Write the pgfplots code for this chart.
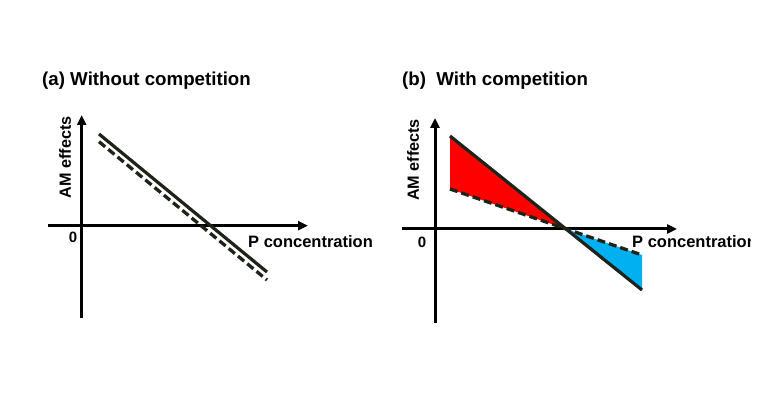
\documentclass[border=0pt]{standalone}
\usepackage{pgfplots}
\pgfplotsset{compat=1.18}
\usepackage{fontspec}
\setmainfont{Liberation Sans}
\usetikzlibrary{arrows.meta}
\definecolor{linecol}{RGB}{30,35,25}
\definecolor{myred}{RGB}{255,0,0}
\definecolor{myblue}{RGB}{0,176,240}
\pgfplotsset{
  panel/.style={
    x=1pt, y=1pt, anchor=origin,
    axis lines=middle, enlargelimits=false, clip=false,
    xtick=\empty, ytick=\empty,
    axis line style={line width=3pt, black, -{Triangle[length=10pt,width=9pt]}},
  },
  solidl/.style={line width=3.2pt, color=linecol, no marks},
  dashl/.style={line width=3.3pt, color=linecol, no marks, dash pattern=on 8pt off 4pt},
}
\begin{document}
\begin{tikzpicture}
\useasboundingbox (0,0) rectangle (764pt,406pt);
% Panel (a)
\begin{axis}[panel, at={(81.7pt,180.3pt)},
  xmin=-33.7, xmax=226.3, ymin=-92.3, ymax=110.7]
  \addplot[dashl] coordinates {(17.3,84) (185.3,-54.3)};
  \addplot[solidl] coordinates {(17.3,91.7) (185.3,-46.3)};
\end{axis}
% Panel (b)
\begin{axis}[panel, at={(435pt,177pt)},
  xmin=-33, xmax=242, ymin=-94, ymax=111]
  \addplot[fill=myred, draw=none] coordinates {(15,93) (131,0) (15,40)} -- cycle;
  \addplot[fill=myblue, draw=none] coordinates {(131,0) (207,-61) (207,-26)} -- cycle;
  \addplot[dashl] coordinates {(15,40) (207,-26)};
  \addplot[solidl] coordinates {(15,93) (207,-61)};
\end{axis}
% Texts
\node[anchor=base west, inner sep=0pt, font=\bfseries\fontsize{18.7}{20}\selectfont] at (42pt,320pt) {(a) Without competition};
\node[anchor=base west, inner sep=0pt, font=\bfseries\fontsize{18.7}{20}\selectfont] at (402pt,320pt) {(b)\ \ With competition};
\node[rotate=90, inner sep=0pt, font=\bfseries\fontsize{16.2}{18}\selectfont] at (65pt,248.5pt) {AM effects};
\node[rotate=90, inner sep=0pt, font=\bfseries\fontsize{16.2}{18}\selectfont] at (413pt,246pt) {AM effects};
\node[anchor=base, inner sep=0pt, font=\bfseries\fontsize{15}{18}\selectfont] at (73pt,163pt) {0};
\node[anchor=base, inner sep=0pt, font=\bfseries\fontsize{15}{18}\selectfont] at (422pt,158pt) {0};
\node[anchor=base west, inner sep=0pt, font=\bfseries\fontsize{16.5}{18}\selectfont] at (248pt,158pt) {P concentration};
\begin{scope}
\clip (0,0) rectangle (750pt,406pt);
\node[anchor=base west, inner sep=0pt, font=\bfseries\fontsize{16.5}{18}\selectfont] at (632pt,158pt) {P concentration};
\end{scope}
\end{tikzpicture}
\end{document}
